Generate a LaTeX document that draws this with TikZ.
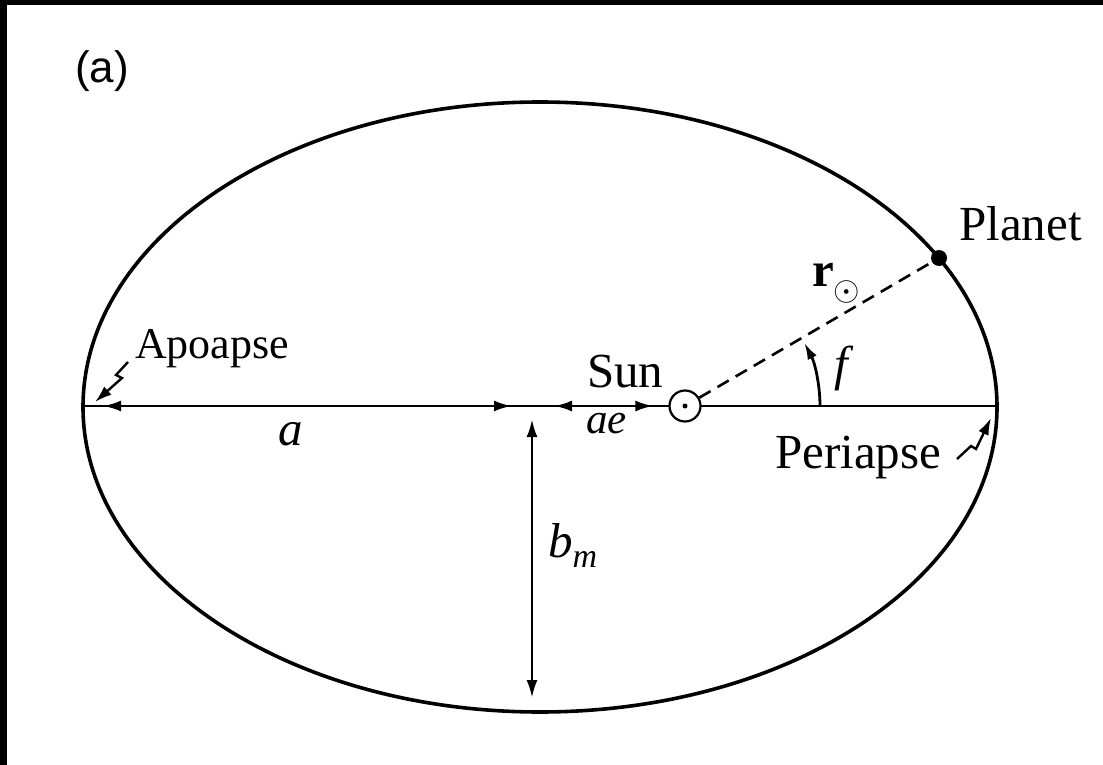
\RequirePackage{fix-cm}
\documentclass[tikz,border=0pt]{standalone}
\usepackage{fontspec}
\setmainfont{Liberation Serif}
\newfontfamily\tagfont{Liberation Sans}
\usetikzlibrary{arrows.meta}

\tikzset{
  orbit/.style={line width=3.6pt},
  axisline/.style={line width=2.8pt},
  dimarrow/.style={line width=2.8pt, {Latex[length=18pt,width=11pt]}-{Latex[length=18pt,width=11pt]}},
  bolt/.style={line width=2.4pt, -{Latex[length=17pt,width=11pt]}},
  lbl/.style={font=\fontsize{49}{58}\selectfont, inner sep=0pt},
}

\begin{document}
\begin{tikzpicture}[x=1pt, y=-1pt]
			\useasboundingbox (0,0) rectangle (1103,765);
			
			% black frame on top and left
			\fill[black] (0,0) rectangle (1103,5);
			\fill[black] (0,0) rectangle (7,765);
			
			\def\ea{457}
			\def\eb{305}
			
			\coordinate (ell) at (540,407);
			\coordinate (ctr) at (532,406);
			\coordinate (apo) at (83,406);
			\coordinate (peri) at (997,406);
			\coordinate (bot) at (532,712);
			\coordinate (farc) at (820,406);
			
			% orbit and major axis
			\draw[orbit] (ell) ellipse [x radius=\ea, y radius=\eb];
			\draw[axisline] (apo) -- (peri);
			
			% sun and planet
			\node[draw, circle, line width=2.2pt, minimum size=31pt, inner sep=0pt, fill=white] (sun) at (685,406) {};
			\fill (sun.center) circle (2.5);
			\node[circle, fill, minimum size=16pt, inner sep=0pt] (planet) at (939,258) {};
			\draw[line width=2.6pt, dash pattern=on 13pt off 8pt] (sun) -- (planet);
			
			% a, ae, b_m
			\draw[dimarrow, shorten <=20pt, shorten >=20pt] (apo) -- (ctr);
			\draw[dimarrow, shorten <=22pt, shorten >=15pt] (ctr) -- (sun.west);
			\draw[dimarrow, shorten <=13pt, shorten >=14pt] (ctr) -- (bot);
			
			% angle f
			\draw[axisline, -{Latex[length=17pt,width=10pt]}] (farc) arc[start angle=0, end angle=-28, radius=135];
			
			% labels
			\node[lbl, font=\fontsize{44}{52}\selectfont, anchor=base west] (apolbl) at (135,358) {Apoapse};
			\node[lbl, anchor=base west] (perilbl) at (775,468) {Periapse};
			\node[lbl, anchor=base west] (sunlbl) at (587,387) {Sun};
			\node[lbl, anchor=base west] (planetlbl) at (959,240) {Planet};
			\node[lbl, anchor=base] (alab) at (291,445) {\textit{a}};
			\node[lbl, font=\fontsize{43}{52}\selectfont, anchor=base west] (aelab) at (586,433) {\textit{ae}};
			\node[lbl, anchor=base west] (bmlab) at (548,557) {\textit{b}\raisebox{-10pt}{\fontsize{34}{34}\selectfont\itshape m}};
			\node[lbl, anchor=base west] (rlab) at (812,286) {\textbf{r}\raisebox{-14pt}{\fontsize{34}{34}\selectfont$\odot$}};
			\node[lbl, anchor=base west] (flab) at (834,380) {\textit{f}};
			\node[font=\tagfont\fontsize{44}{52}\selectfont, inner sep=0pt, anchor=base west] (tag) at (75,83) {(a)};
			
			% zigzag pointers
			\coordinate (apofrom) at (128,362);
			\coordinate (apoto) at (95,402);
			\coordinate (perifrom) at (957,459);
			\coordinate (perito) at (991,418);
			\draw[bolt] (apofrom) -- (116,375) -- (122,378) -- (apoto);
			\draw[bolt] (perifrom) -- (971,446) -- (976,449) -- (perito);
			
		\end{tikzpicture}
\end{document}
